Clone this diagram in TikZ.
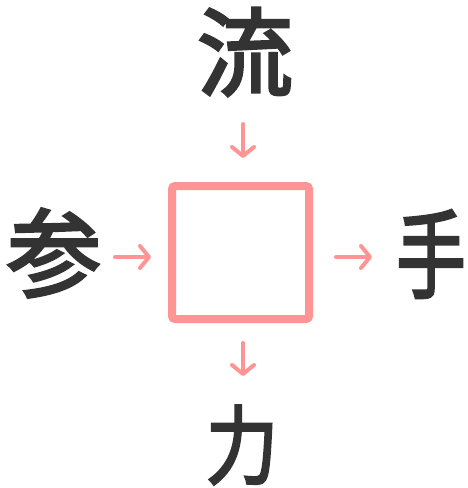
\documentclass[tikz,border=0pt]{standalone}
\usepackage{fontspec}
\newfontfamily\cjk{Noto Sans CJK JP}[FakeBold=3]
\usetikzlibrary{arrows.meta}
\definecolor{pinkline}{HTML}{FF9494}
\definecolor{inkgray}{HTML}{333333}
\tikzset{
  kanji/.style={font=\cjk\fontsize{96}{96}\selectfont, text=inkgray, inner sep=0pt, anchor=center},
  parrow/.style={draw=pinkline, line width=4pt, line cap=round, line join=round,
    -{Straight Barb[length=9pt,width=22pt,line cap=round,line join=round]}},
  box/.style={draw=pinkline, line width=8pt, rounded corners=3pt}
}
\begin{document}
\begin{tikzpicture}[x=1pt,y=-1pt]
\useasboundingbox (0,0) rectangle (467,488);
\node[kanji] (top) at (245,52) {流};
\node[kanji] (left) at (54,253) {\scalebox{0.98}[1]{参}};
\node[kanji] (right) at (431,254) {\scalebox{0.72}[1]{手}};
\node[kanji, font=\cjk\fontsize{86}{86}\selectfont] (bottom) at (242,445) {\scalebox{0.84}[1]{力}};
\draw[box] (172,186) rectangle (309,319);
\coordinate (ta) at (243,124);
\coordinate (tb) at (243,158);
\coordinate (la) at (115,257);
\coordinate (lb) at (151,257);
\coordinate (ra) at (336,257);
\coordinate (rb) at (372,257);
\coordinate (ba) at (243,343);
\coordinate (bb) at (243,376);
\draw[parrow] (ta) -- (tb);
\draw[parrow] (la) -- (lb);
\draw[parrow] (ra) -- (rb);
\draw[parrow] (ba) -- (bb);
\end{tikzpicture}
\end{document}
